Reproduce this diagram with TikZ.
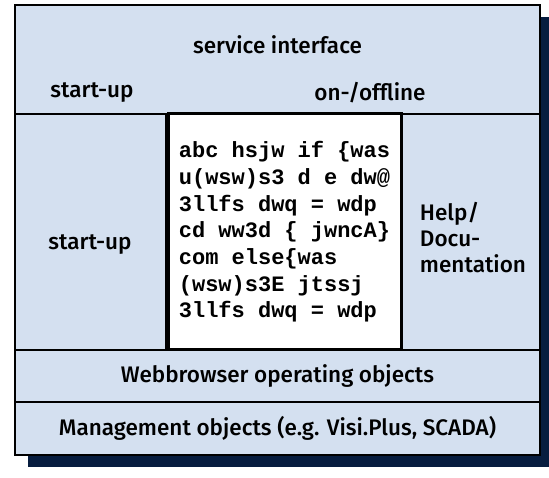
\documentclass[tikz,border=0pt]{standalone}
\usepackage{fontspec}
\setmainfont{Fira Sans}[UprightFont={* Medium}]
\newfontfamily\codefont{Liberation Mono}
\usepackage{tikz}
\usetikzlibrary{positioning}
\definecolor{panelBlue}{HTML}{D4E0F0}
\definecolor{shadowNavy}{HTML}{071D3F}

\begin{document}
\begin{tikzpicture}[x=1pt,y=1pt,
        panel/.style={draw=black, line width=1.2pt, fill=panelBlue, inner sep=0pt, outer sep=0pt},
        codebox/.style={draw=black, line width=3pt, fill=white, inner sep=0pt, outer sep=0pt, align=left,
            font=\codefont\bfseries\fontsize{22}{26.7}\selectfont},
        label/.style={font=\fontsize{22.5}{26}\selectfont, inner sep=0pt}
    ]
        \useasboundingbox (0,0) rectangle (549,478);

        % shadow and frame
        \node[fill=shadowNavy, minimum width=525, minimum height=450, inner sep=0pt] (shadow) at (290.5,236) {};
        \node[panel, line width=1.5pt, minimum width=525, minimum height=450] (frame) at (277.5,248) {};

        % bands
        \node[panel, minimum width=525, minimum height=109] (top) at (277.5,418.5) {};
        \node[panel, minimum width=151, minimum height=236] (left) at (90.5,246) {};
        \node[panel, minimum width=139, minimum height=236] (right) at (470.5,246) {};
        \node[panel, minimum width=525, minimum height=52, label] (web) at (277.5,102)
            {Webbrowser operating objects};
        \node[panel, minimum width=525, minimum height=53, label] (mgmt) at (277.5,49.5)
            {Management objects (e.g. Visi.Plus, SCADA)};
        \node[codebox, minimum width=233, minimum height=236] (code) at (284.5,246) {
            abc hsjw if \{was\\
            u(wsw)s3 d e dw@\\
            3llfs dwq = wdp\\
            cd ww3d \{ jwncA\}\\
            com else\{was\\
            (wsw)s3E jtssj\\
            3llfs dwq = wdp
        };

        % texts
        \node[label] (service) at (277.5,433) {service interface};
        \node[label] (startTop) at (92,385) {start-up};
        \node[label] (online) at (370,385) {on-/offline};
        \node[label] (startLeft) at (90,233) {start-up};
        \node[label, align=left] (help) at (473,240) {Help/\\Docu-\\mentation};
    \end{tikzpicture}
\end{document}
